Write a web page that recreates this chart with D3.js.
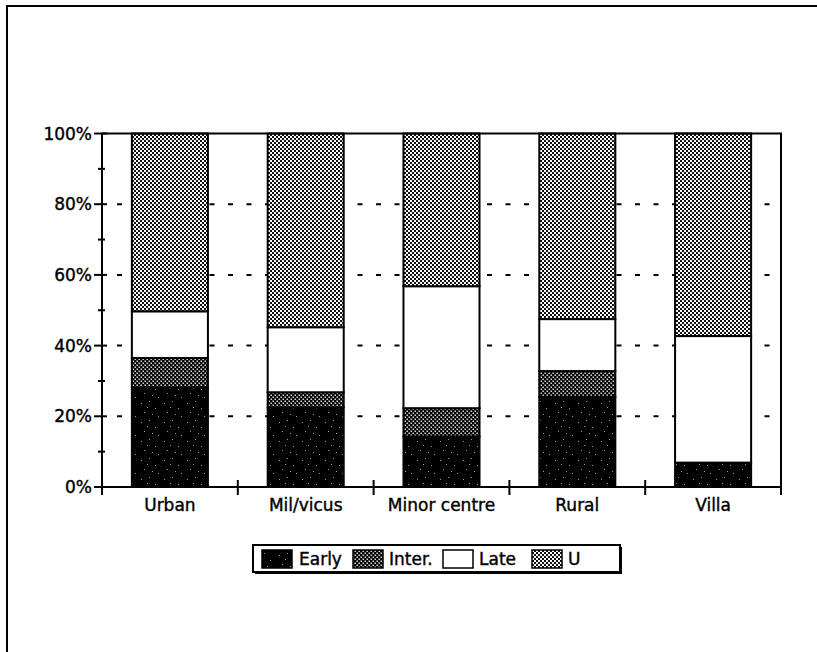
<!DOCTYPE html>
<html>
<head>
<meta charset="utf-8">
<script src="https://cdn.jsdelivr.net/npm/d3@7/dist/d3.min.js"></script>
<style>
html,body{margin:0;padding:0;background:#fff;}
svg{display:block;}
text{font-family:"DejaVu Sans",sans-serif;font-size:17px;fill:#000;stroke:#000;stroke-width:0.4px;}
</style>
</head>
<body>
<svg id="chart" width="817" height="652"></svg>
<script>
const categories = ["Urban", "Mil/vicus", "Minor centre", "Rural", "Villa"];
const seriesNames = ["Early", "Inter.", "Late", "U"];
const early = [28.2, 22.5, 14.3, 25.5, 6.9];
const inter = [8.3, 4.3, 8.0, 7.3, 0];
const late  = [13.2, 18.4, 34.5, 14.7, 35.8];
const uVals = [50.3, 54.8, 43.2, 52.5, 57.3];
const yTicks = [0, 20, 40, 60, 80, 100];
const yTickLabels = ["0%", "20%", "40%", "60%", "80%", "100%"];
const yMinorTicks = [10, 30, 50, 70, 90];

(function(){
const svg = d3.select("#chart");
const pLeft = 102, pRight = 781, pTop = 133.5, pBottom = 487;

// patterns
const defs = svg.append("defs");
const pI = defs.append("pattern").attr("id","pInter").attr("patternUnits","userSpaceOnUse").attr("width",4).attr("height",4);
pI.append("rect").attr("width",4).attr("height",4).attr("fill","#000");
pI.append("rect").attr("x",0.5).attr("y",0.5).attr("width",1.4).attr("height",1.4).attr("fill","#fff");
pI.append("rect").attr("x",2.5).attr("y",2.5).attr("width",1.4).attr("height",1.4).attr("fill","#fff");
const pU = defs.append("pattern").attr("id","pU").attr("patternUnits","userSpaceOnUse").attr("width",4).attr("height",4);
pU.append("rect").attr("width",4).attr("height",4).attr("fill","#fff");
pU.append("rect").attr("x",0).attr("y",0).attr("width",2).attr("height",2).attr("fill","#111");
pU.append("rect").attr("x",2).attr("y",2).attr("width",2).attr("height",2).attr("fill","#111");
const pE = defs.append("pattern").attr("id","pEarly").attr("patternUnits","userSpaceOnUse").attr("width",23).attr("height",19);
pE.append("rect").attr("width",23).attr("height",19).attr("fill","#000");
[[3,4],[11,2],[17,9],[6,13],[14,15],[20,17],[9,8]].forEach(([px,py])=>{
  pE.append("rect").attr("x",px).attr("y",py).attr("width",1).attr("height",1).attr("fill","#fff").attr("opacity",0.6);
});

const fills = ["url(#pEarly)", "url(#pInter)", "#fff", "url(#pU)"];

// outer frame (left and top only visible)
svg.append("path").attr("d","M7,652 L7,6 L817,6").attr("fill","none").attr("stroke","#000").attr("stroke-width",2);

const x = d3.scaleBand().domain(categories).range([pLeft, pRight]).paddingInner(0.44).paddingOuter(0.22);
const y = d3.scaleLinear().domain([0, 100]).range([pBottom, pTop]);

// gridlines
svg.append("g").selectAll("line").data(yTicks.filter(t => t > 0 && t < 100)).join("line")
  .attr("x1", pLeft + 15).attr("x2", pRight).attr("y1", d => y(d)).attr("y2", d => y(d))
  .attr("stroke","#000").attr("stroke-width",2).attr("stroke-dasharray","5,13.5");

// stacked bars
const rows = categories.map((c, i) => ({cat: c, Early: early[i], "Inter.": inter[i], Late: late[i], U: uVals[i]}));
const stack = d3.stack().keys(seriesNames)(rows);
const g = svg.append("g");
stack.forEach((layer, li) => {
  g.append("g").selectAll("rect").data(layer).join("rect")
    .attr("x", d => x(d.data.cat))
    .attr("width", x.bandwidth())
    .attr("y", d => y(Math.min(100, d[1])))
    .attr("height", d => Math.max(0, y(d[0]) - y(Math.min(100, d[1]))))
    .attr("fill", fills[li])
    .attr("stroke", "#000").attr("stroke-width", 2);
});

// plot border top and right
svg.append("path").attr("d", `M${pLeft},${pTop} L${pRight},${pTop} L${pRight},${pBottom + 8}`)
  .attr("fill","none").attr("stroke","#000").attr("stroke-width",2);

// y axis
const ya = svg.append("g");
ya.append("line").attr("x1",pLeft).attr("x2",pLeft).attr("y1",pTop).attr("y2",pBottom + 1).attr("stroke","#000").attr("stroke-width",2);
ya.selectAll("line.maj").data(yTicks).join("line").attr("class","maj")
  .attr("x1",pLeft - 8).attr("x2",pLeft + 5).attr("y1",d=>y(d)).attr("y2",d=>y(d)).attr("stroke","#000").attr("stroke-width",2);
ya.selectAll("line.min").data(yMinorTicks).join("line").attr("class","min")
  .attr("x1",pLeft - 4).attr("x2",pLeft + 3).attr("y1",d=>y(d)).attr("y2",d=>y(d)).attr("stroke","#000").attr("stroke-width",2);
ya.selectAll("text").data(yTicks).join("text")
  .attr("x", pLeft - 10).attr("y", d => y(d) + 6).attr("text-anchor","end")
  .text((d, i) => yTickLabels[i]);

// x axis
const xa = svg.append("g");
xa.append("line").attr("x1",pLeft).attr("x2",pRight).attr("y1",pBottom).attr("y2",pBottom).attr("stroke","#000").attr("stroke-width",2);
const bounds = [pLeft].concat(categories.slice(1).map(c => x(c) - x.step() * x.paddingInner() / 2)).concat([pRight]);
xa.selectAll("line.tk").data(bounds).join("line").attr("class","tk")
  .attr("x1",d=>d).attr("x2",d=>d).attr("y1",pBottom - 7).attr("y2",pBottom + 8).attr("stroke","#000").attr("stroke-width",2);
xa.selectAll("text").data(categories).join("text")
  .attr("x", d => x(d) + x.bandwidth()/2).attr("y", pBottom + 24).attr("text-anchor","middle").text(d => d);

// legend
const lg = svg.append("g");
lg.append("rect").attr("x",255).attr("y",547).attr("width",367).attr("height",27).attr("fill","#000");
lg.append("rect").attr("x",253).attr("y",545).attr("width",367).attr("height",27).attr("fill","#fff").attr("stroke","#000").attr("stroke-width",2);
const swX = [262, 353, 443, 532];
const txX = [299, 389, 479, 568];
seriesNames.forEach((s, i) => {
  lg.append("rect").attr("x", swX[i]).attr("y", 550).attr("width", 30).attr("height", 18)
    .attr("fill", fills[i]).attr("stroke","#000").attr("stroke-width",1.5);
  lg.append("text").attr("x", txX[i]).attr("y", 565).text(s);
});
})();
</script>
</body>
</html>
